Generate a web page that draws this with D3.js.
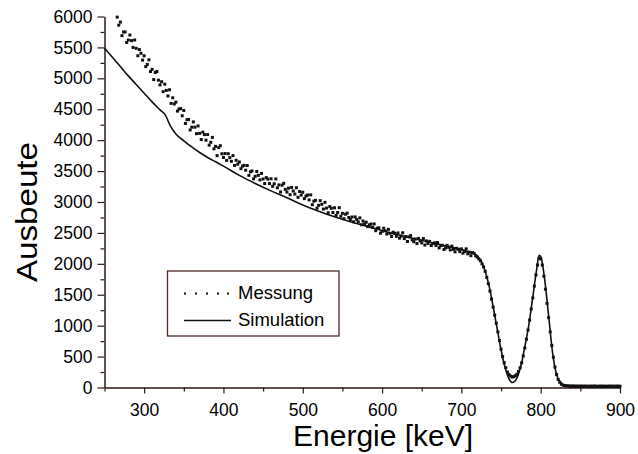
<!DOCTYPE html>
<html>
<head>
<meta charset="utf-8">
<script src="https://cdn.jsdelivr.net/npm/d3@7"></script>
<style>
  body { margin: 0; background: #fff; }
  svg { display: block; }
  text { font-family: "Liberation Sans", Arial, sans-serif; fill: #000; }
</style>
</head>
<body>
<div id="chart"></div>
<script>
// ---- Data ----
const xDomain = [250, 900];
const yDomain = [0, 6000];
const xTicks = [300, 400, 500, 600, 700, 800, 900];
const yTicks = [0, 500, 1000, 1500, 2000, 2500, 3000, 3500, 4000, 4500, 5000, 5500, 6000];
const xLabel = "Energie [keV]";
const yLabel = "Ausbeute";
const legendLabels = ["Messung", "Simulation"];

// Measurement: channel energies (keV), 2 keV channel width starting at 266 keV
const measStartKeV = 266;
const measStepKeV = 2;
const measCounts = [
  5990,5860,5910,5690,5750,5750,5580,5620,5700,5610,
  5500,5620,5485,5365,5465,5405,5295,5365,5190,5225,
  5300,5110,5145,4980,5095,5110,4970,4895,4945,4785,
  4905,4805,4715,4815,4595,4685,4585,4615,4470,4505,
  4510,4395,4480,4270,4330,4335,4165,4210,4295,4210,
  4105,4230,4110,4010,4130,4090,4000,4090,3920,3965,
  4045,3860,3900,3750,3880,3910,3780,3720,3784,3673,
  3781,3718,3658,3750,3591,3675,3612,3648,3540,3581,
  3593,3514,3590,3431,3488,3502,3375,3416,3494,3431,
  3357,3462,3372,3298,3395,3369,3298,3376,3254,3295,
  3373,3230,3276,3162,3272,3302,3204,3162,3224,3118,
  3236,3178,3128,3230,3076,3170,3112,3158,3055,3096,
  3113,3034,3115,2956,3013,3027,2900,2946,3022,2962,
  2886,2994,2902,2826,2926,2898,2830,2906,2784,2830,
  2908,2770,2816,2730,2802,2820,2749,2717,2757,2680,
  2759,2716,2678,2743,2632,2692,2646,2673,2602,2631,
  2643,2589,2645,2536,2576,2582,2495,2523,2576,2535,
  2483,2558,2494,2442,2512,2493,2446,2499,2415,2448,
  2502,2408,2441,2362,2436,2456,2387,2357,2401,2328,
  2411,2372,2338,2409,2304,2370,2330,2363,2296,2329,
  2339,2297,2345,2258,2293,2300,2231,2256,2300,2267,
  2225,2286,2235,2194,2251,2236,2198,2242,2172,2198,
  2242,2163,2189,2132,2182,2170,2130,2110,2080,2050,
  2000,1950,1880,1780,1680,1560,1430,1300,1170,1040,
  900,760,620,500,400,320,250,210,185,170,
  175,190,215,260,320,400,510,640,780,930,
  1090,1270,1450,1640,1820,1980,2090,2080,1980,1800,
  1590,1360,1130,900,680,490,330,210,130,85,
  55,40,32,28,26,24,23,22,24,21,
  22,20,23,21,20,22,21,19,22,20,
  21,23,20,19,21,22,20,21,19,20,
  22,21,20,21,20,22,21,20
];

// Simulation curve (keV, yield)
const simEnergy = [250,260,270,280,290,300,310,320,327,333,340,350,360,370,380,390,400,420,440,460,480,500,520,540,560,580,600,620,640,660,680,700,712,718,722,726,730,735,740,745,750,755,760,764,768,772,776,780,785,790,795,798,800,805,810,815,820,825,830,840,900];
const simCounts = [5490,5340,5190,5040,4900,4760,4620,4490,4400,4230,4100,3990,3890,3800,3720,3650,3580,3430,3300,3180,3070,2950,2850,2760,2680,2610,2540,2470,2410,2350,2290,2230,2180,2150,2100,2020,1880,1640,1310,960,610,330,140,80,110,220,400,660,1010,1460,1920,2140,2120,1750,1160,560,210,80,30,15,15];

// ---- Layout ----
const W = 638, H = 454;
const margin = { left: 104.5, right: 18, top: 16.5, bottom: 66.5 };

const svg = d3.select("#chart").append("svg")
  .attr("width", W).attr("height", H);

const x = d3.scaleLinear().domain(xDomain).range([margin.left, W - margin.right]);
const y = d3.scaleLinear().domain(yDomain).range([H - margin.bottom, margin.top]);

const axisColor = "#2a1a16";

// Y axis (major + minor ticks)
const yMinor = d3.range(0, 6001, 250).filter(v => v % 500 !== 0);
svg.append("g")
  .attr("transform", `translate(${margin.left},0)`)
  .call(d3.axisLeft(y).tickValues(yMinor).tickSize(4).tickFormat(""))
  .call(g => g.select(".domain").remove())
  .call(g => g.selectAll("line").attr("stroke", axisColor).attr("stroke-width", 1.2));
const yAxis = svg.append("g")
  .attr("transform", `translate(${margin.left},0)`)
  .call(d3.axisLeft(y).tickValues(yTicks).tickSize(7).tickPadding(5).tickSizeOuter(0).tickFormat(d3.format("d")));
yAxis.select(".domain").attr("stroke", axisColor).attr("stroke-width", 1.5);
yAxis.selectAll("line").attr("stroke", axisColor).attr("stroke-width", 1.2);
yAxis.selectAll("text").attr("font-size", 17.5).attr("font-family", "Liberation Sans, Arial, sans-serif").attr("fill", "#000");

// X axis
const xMinor = d3.range(250, 901, 50).filter(v => v % 100 !== 0);
svg.append("g")
  .attr("transform", `translate(0,${H - margin.bottom})`)
  .call(d3.axisBottom(x).tickValues(xMinor).tickSize(4).tickFormat(""))
  .call(g => g.select(".domain").remove())
  .call(g => g.selectAll("line").attr("stroke", axisColor).attr("stroke-width", 1.2));
const xAxis = svg.append("g")
  .attr("transform", `translate(0,${H - margin.bottom})`)
  .call(d3.axisBottom(x).tickValues(xTicks).tickSize(6).tickPadding(10).tickSizeOuter(0));
xAxis.select(".domain").attr("stroke", axisColor).attr("stroke-width", 1.5);
xAxis.selectAll("line").attr("stroke", axisColor).attr("stroke-width", 1.2);
xAxis.selectAll("text").attr("font-size", 17.5).attr("font-family", "Liberation Sans, Arial, sans-serif").attr("fill", "#000");

// Axis titles
svg.append("text")
  .attr("x", x(600) + 1).attr("y", 446)
  .attr("text-anchor", "middle")
  .attr("font-size", 30)
  .text(xLabel);
svg.append("text")
  .attr("transform", `translate(37,${212}) rotate(-90)`)
  .attr("text-anchor", "middle")
  .attr("font-size", 30)
  .attr("textLength", 140)
  .attr("lengthAdjust", "spacingAndGlyphs")
  .text(yLabel);

// Simulation line
const simData = simEnergy.map((e, i) => ({ e, v: simCounts[i] }));
const line = d3.line().x(d => x(d.e)).y(d => y(d.v)).curve(d3.curveMonotoneX);
svg.append("path")
  .datum(simData)
  .attr("fill", "none")
  .attr("stroke", "#111")
  .attr("stroke-width", 1.6)
  .attr("d", line);

// Measurement dots
const measData = measCounts.map((v, i) => ({ e: measStartKeV + i * measStepKeV, v }));
svg.append("g").selectAll("rect")
  .data(measData)
  .join("rect")
  .attr("x", d => x(d.e) - 1.5)
  .attr("y", d => y(d.v) - 1.5)
  .attr("width", 3)
  .attr("height", 3)
  .attr("fill", "#111");

// Legend
const lg = svg.append("g");
lg.append("rect")
  .attr("x", 167.5).attr("y", 271)
  .attr("width", 171.5).attr("height", 65)
  .attr("fill", "#fff")
  .attr("stroke", "#4a2a22")
  .attr("stroke-width", 1.3);
const dotXs = [185, 196, 207, 218, 228];
lg.selectAll("rect.ld")
  .data(dotXs)
  .join("rect")
  .attr("class", "ld")
  .attr("x", d => d - 1).attr("y", 292.5)
  .attr("width", 2).attr("height", 2)
  .attr("fill", "#111");
lg.append("line")
  .attr("x1", 184).attr("x2", 231)
  .attr("y1", 320.5).attr("y2", 320.5)
  .attr("stroke", "#111").attr("stroke-width", 1.5);
lg.append("text").attr("x", 238).attr("y", 298.5).attr("font-size", 18.5).text(legendLabels[0]);
lg.append("text").attr("x", 238).attr("y", 325.5).attr("font-size", 18.5).text(legendLabels[1]);
</script>
</body>
</html>
